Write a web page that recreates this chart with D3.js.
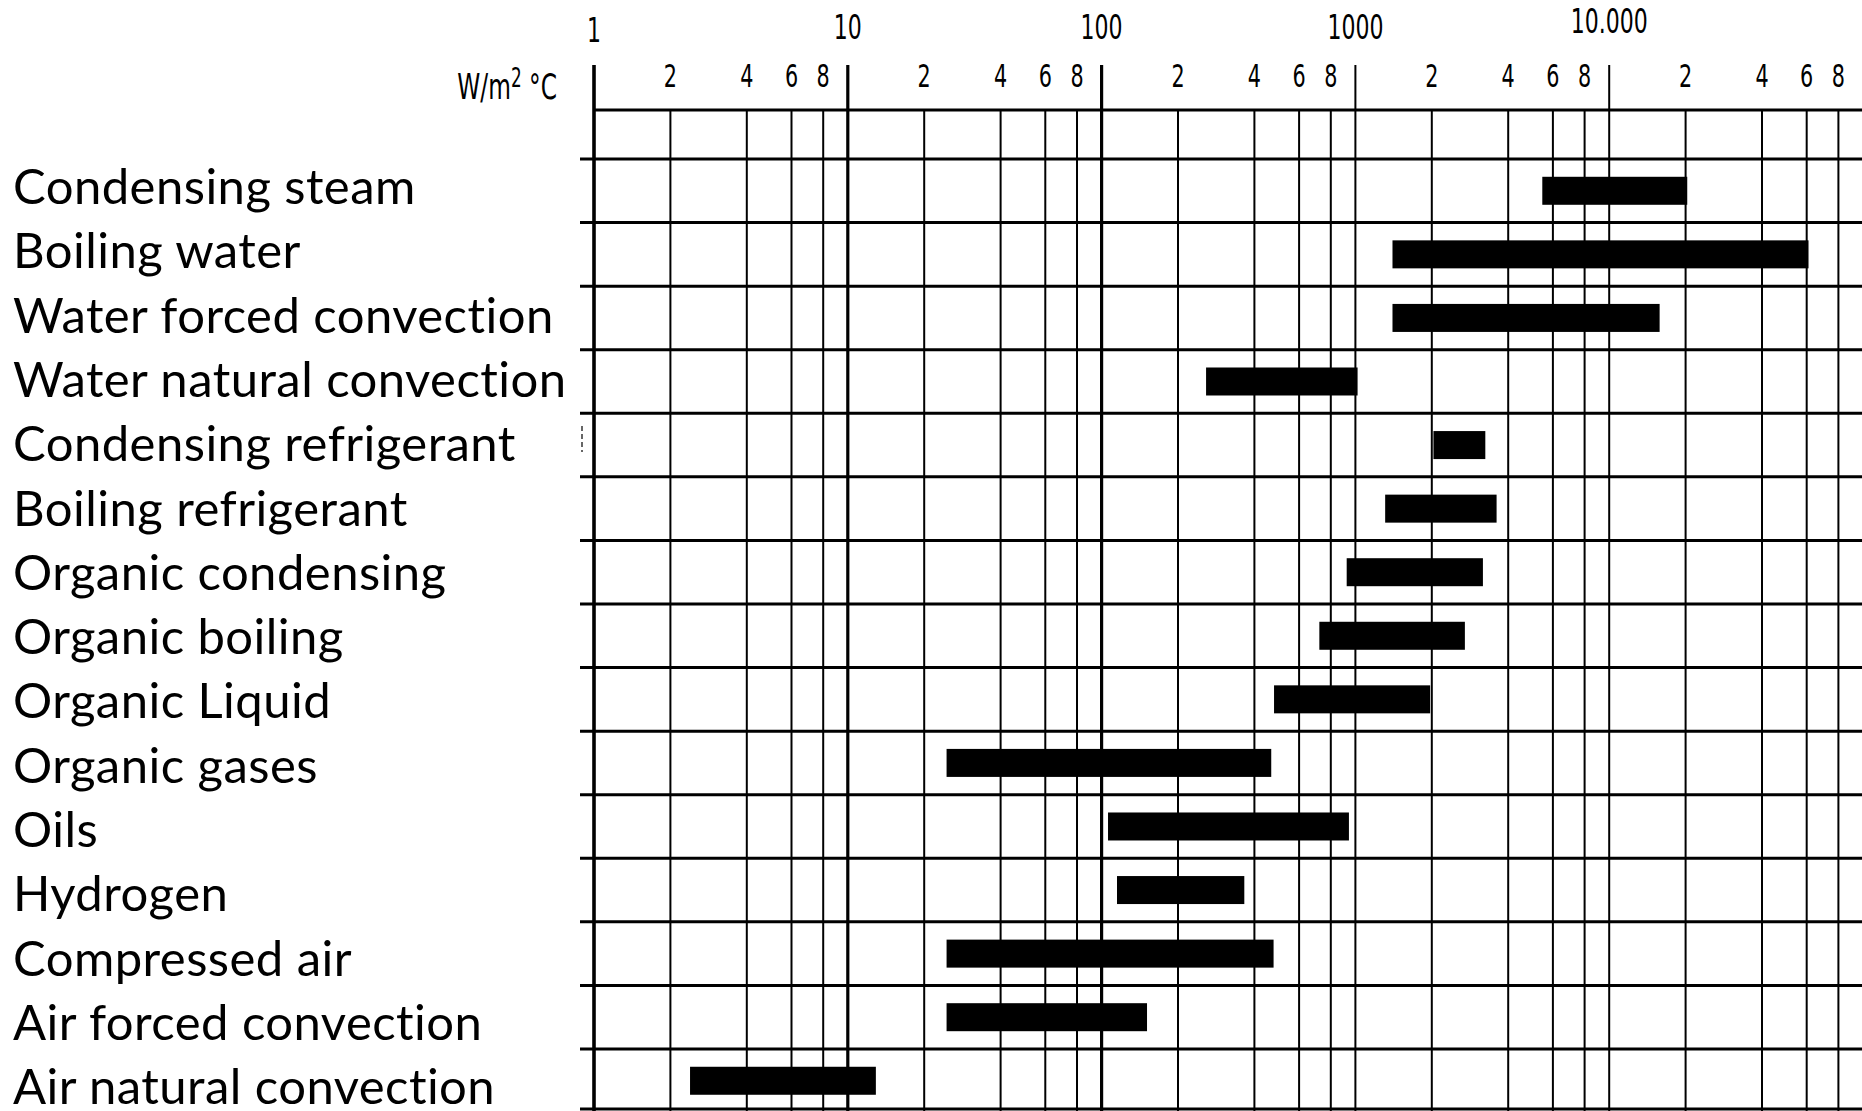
<!DOCTYPE html>
<html>
<head>
<meta charset="utf-8">
<script src="https://cdn.jsdelivr.net/npm/d3@7"></script>
<style>
  html, body { margin: 0; padding: 0; background: #fff; }
  svg { display: block; }
</style>
</head>
<body>
<svg id="chart" width="1862" height="1111"></svg>
<script>
// ---------- DATA ----------
const categories = [
  "Condensing steam",
  "Boiling water",
  "Water forced convection",
  "Water natural convection",
  "Condensing refrigerant",
  "Boiling refrigerant",
  "Organic condensing",
  "Organic boiling",
  "Organic Liquid",
  "Organic gases",
  "Oils",
  "Hydrogen",
  "Compressed air",
  "Air forced convection",
  "Air natural convection"
];
// heat transfer coefficient range, W/m2 °C
const lowValues  = [5450, 1400, 1400, 258, 2030, 1310, 924, 721, 478, 24.5, 106, 115, 24.5, 24.5, 2.39];
const highValues = [20300, 61000, 15800, 1020, 3250, 3600, 3180, 2700, 1970, 466, 943, 365, 476, 151, 12.9];

const decadeValues = [1, 10, 100, 1000, 10000];
const decadeLabels = ["1", "10", "100", "1000", "10.000"];
const minorMultipliers = [2, 4, 6, 8];
const minorLabels = ["2", "4", "6", "8"];
const unitLabel = ["W/m", "2", " °C"];

// ---------- LAYOUT ----------
const W = 1862, H = 1111;
const svg = d3.select("#chart");

const x = d3.scaleLog().domain([1, 100000]).range([594, 1863]);
const y = d3.scaleBand().domain(categories).range([159, 159 + 15 * 63.57]).paddingInner(0).paddingOuter(0);
const labelY = d3.scalePoint().domain(categories).range([204, 204 + 14 * 64.3]);

const minorValues = [];
decadeValues.forEach(d => minorMultipliers.forEach((m, i) => minorValues.push({v: d * m, label: minorLabels[i]})));

const numFont = "'Liberation Sans Narrow', 'DejaVu Sans Condensed', 'Arial Narrow', sans-serif";
const labelFont = "Lato, 'Open Sans', sans-serif";

// background
svg.append("rect").attr("width", W).attr("height", H).attr("fill", "#fff");

// minor vertical grid lines
svg.append("g").selectAll("line").data(minorValues).join("line")
  .attr("x1", d => x(d.v)).attr("x2", d => x(d.v))
  .attr("y1", 110).attr("y2", H)
  .attr("stroke", "#000").attr("stroke-width", 2);

// decade vertical lines
svg.append("g").selectAll("line").data(decadeValues).join("line")
  .attr("x1", d => x(d)).attr("x2", d => x(d))
  .attr("y1", 65).attr("y2", H)
  .attr("stroke", "#000")
  .attr("stroke-width", d => d === 1 ? 3.6 : (d <= 100 ? 3.2 : 2));

// top axis line
svg.append("line")
  .attr("x1", x(1)).attr("x2", W)
  .attr("y1", 110).attr("y2", 110)
  .attr("stroke", "#000").attr("stroke-width", 3.2);

// row boundary lines
svg.append("g").selectAll("line").data(categories).join("line")
  .attr("x1", 580).attr("x2", W)
  .attr("y1", d => y(d)).attr("y2", d => y(d))
  .attr("stroke", "#000").attr("stroke-width", 3);
svg.append("line")
  .attr("x1", 580).attr("x2", W)
  .attr("y1", H - 2).attr("y2", H - 2)
  .attr("stroke", "#000").attr("stroke-width", 3);

// small scan artefact near the axis
svg.append("line")
  .attr("x1", 582).attr("x2", 582).attr("y1", 426).attr("y2", 452)
  .attr("stroke", "#666").attr("stroke-width", 2).attr("stroke-dasharray", "5,3");

// bars
const barH = 28;
svg.append("g").selectAll("rect").data(categories).join("rect")
  .attr("x", (d, i) => x(lowValues[i]))
  .attr("width", (d, i) => x(highValues[i]) - x(lowValues[i]))
  .attr("y", d => y(d) + (y.bandwidth() - barH) / 2)
  .attr("height", barH)
  .attr("fill", "#000");

// decade labels
svg.append("g").selectAll("text").data(decadeValues).join("text")
  .attr("transform", (d, i) => `translate(${x(d)},${d === 10000 ? 33 : (d === 1 ? 42 : 39)}) scale(0.72,1)`)
  .attr("text-anchor", "middle")
  .attr("font-family", numFont)
  .attr("font-size", 34)
  .attr("fill", "#000")
  .text((d, i) => decadeLabels[i]);

// minor labels
svg.append("g").selectAll("text").data(minorValues).join("text")
  .attr("transform", d => `translate(${x(d.v)},87) scale(0.72,1)`)
  .attr("text-anchor", "middle")
  .attr("font-family", numFont)
  .attr("font-size", 32)
  .attr("fill", "#000")
  .text(d => d.label);

// unit label
const unit = svg.append("text")
  .attr("transform", "translate(557,99) scale(0.72,1)")
  .attr("text-anchor", "end")
  .attr("font-family", numFont)
  .attr("font-size", 36)
  .attr("fill", "#000");
unit.append("tspan").text(unitLabel[0]);
unit.append("tspan").attr("dy", -12).attr("font-size", 26).text(unitLabel[1]);
unit.append("tspan").attr("dy", 12).text(unitLabel[2]);

// category labels
svg.append("g").selectAll("text").data(categories).join("text")
  .attr("x", 13)
  .attr("y", d => labelY(d))
  .attr("font-family", labelFont)
  .attr("font-size", 49)
  .attr("letter-spacing", 0.45)
  .attr("fill", "#000")
  .text(d => d);
</script>
</body>
</html>
